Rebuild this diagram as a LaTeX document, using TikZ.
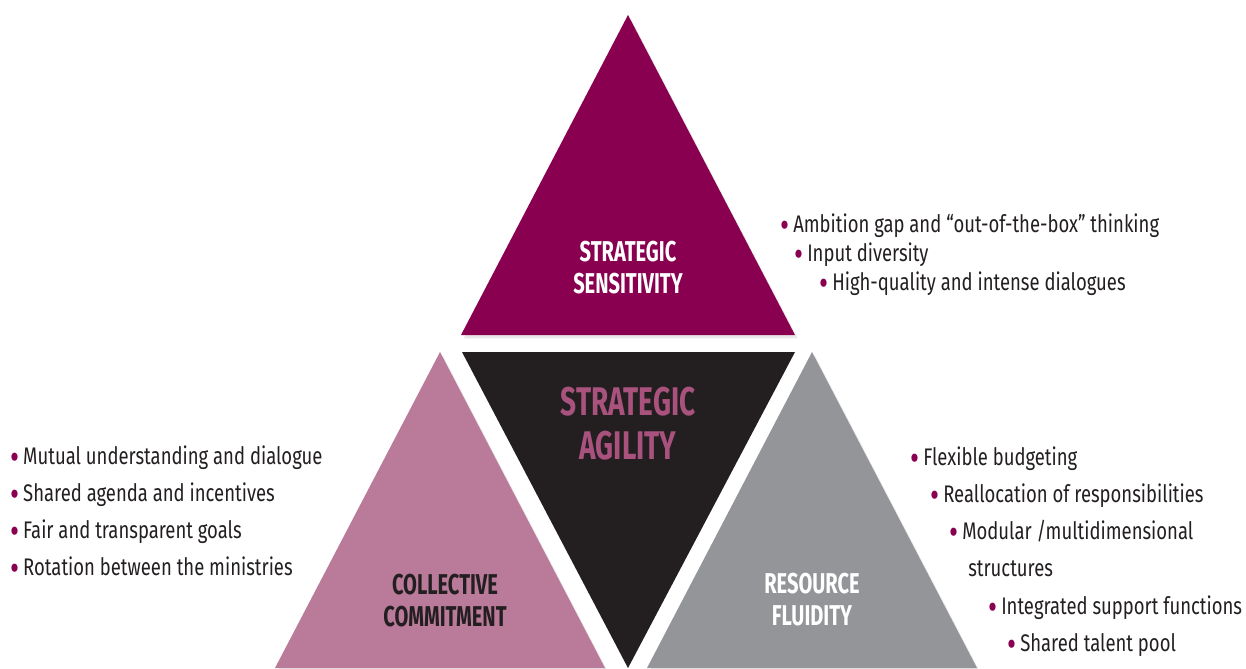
\documentclass[tikz,border=0pt]{standalone}
\usepackage{fontspec}
\setmainfont{Fira Sans}[FakeStretch=0.77]
\newfontfamily\headfont{Fira Sans}[FakeStretch=0.7]
\usetikzlibrary{shadows}
\definecolor{sensmagenta}{HTML}{8A0051}
\definecolor{commitpink}{HTML}{BA7A9A}
\definecolor{fluidgray}{HTML}{939598}
\definecolor{agiledark}{HTML}{231F20}
\definecolor{agilepink}{HTML}{A9527E}
\newcommand{\bul}{\textcolor{sensmagenta}{\raisebox{-0.24em}{\scalebox{1.5}{\textbullet}}}\hspace{3pt}}

\begin{document}
\begin{tikzpicture}[
                x=0.75pt, y=-0.75pt,
                tri/.style={draw=none, drop shadow={opacity=0.18, shadow xshift=2pt, shadow yshift=-2.5pt}},
                head/.style={align=center, inner sep=0pt, font=\headfont\bfseries\fontsize{21.5}{24}\selectfont},
                bighead/.style={head, font=\headfont\bfseries\fontsize{30}{33}\selectfont},
                item/.style={anchor=base west, inner sep=0pt, text=agiledark, font=\fontsize{18}{20}\selectfont}
            ]
            \useasboundingbox (0,0) rectangle (1246,668);

            % Dreiecke
            \fill[tri, sensmagenta] (628,15) -- (795,335) -- (461,335) -- cycle;
            \fill[tri, commitpink] (440,352) -- (605,668) -- (275,668) -- cycle;
            \fill[tri, fluidgray] (812,352) -- (977,668) -- (647,668) -- cycle;
            \fill[agiledark] (462,352) -- (795,352) -- (628,668) -- cycle;

            % Titel
            \node[head, text=white] (sens) at (628,268) {STRATEGIC\\SENSITIVITY};
            \node[bighead, text=agilepink] (agil) at (628,424) {STRATEGIC\\AGILITY};
            \node[head, text=agiledark] (comm) at (445,601) {COLLECTIVE\\COMMITMENT};
            \node[head, text=white] (fluid) at (812,600) {RESOURCE\\FLUIDITY};

            % Listen
            \node[item] (c1) at (10,464) {\bul Mutual understanding and dialogue};
            \node[item] (c2) at (10,501) {\bul Shared agenda and incentives};
            \node[item] (c3) at (10,538) {\bul Fair and transparent goals};
            \node[item] (c4) at (10,575) {\bul Rotation between the ministries};

            \node[item] (s1) at (780,232) {\bul Ambition gap and ``out-of-the-box'' thinking};
            \node[item] (s2) at (794,261) {\bul Input diversity};
            \node[item] (s3) at (819,290) {\bul High-quality and intense dialogues};

            \node[item] (f1) at (910,465) {\bul Flexible budgeting};
            \node[item] (f2) at (930,502) {\bul Reallocation of responsibilities};
            \node[item] (f3) at (949,539) {\bul Modular /multidimensional};
            \node[item] (f4) at (968,576) {structures};
            \node[item] (f5) at (988,614) {\bul Integrated support functions};
            \node[item] (f6) at (1007,651) {\bul Shared talent pool};

        \end{tikzpicture}
\end{document}
